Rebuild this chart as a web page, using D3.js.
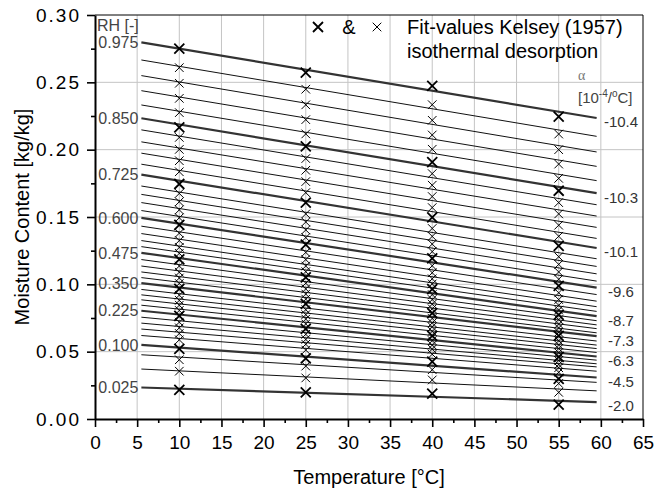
<!DOCTYPE html>
<html>
<head>
<meta charset="utf-8">
<script src="https://cdn.jsdelivr.net/npm/d3@7"></script>
<style>
  body { margin: 0; background: #fff; }
  text { font-family: "Liberation Sans", Arial, sans-serif; }
</style>
</head>
<body>
<svg id="chart" width="663" height="490"></svg>
<script>
// relative humidity of each fit line, top to bottom
const rhLevels = [0.975, 0.950, 0.925, 0.900, 0.875, 0.850, 0.825, 0.800, 0.775, 0.750,
  0.725, 0.700, 0.675, 0.650, 0.625, 0.600, 0.575, 0.550, 0.525, 0.500,
  0.475, 0.450, 0.425, 0.400, 0.375, 0.350, 0.325, 0.300, 0.275, 0.250,
  0.225, 0.200, 0.175, 0.150, 0.125, 0.100, 0.075, 0.050, 0.025];

// fit lines run from 5.5 to 59.5 degC
const fitRange = [5.5, 59.5];
const mcStart = [0.2797, 0.2666, 0.2550, 0.2438, 0.2332, 0.2233, 0.2147, 0.2058, 0.1974, 0.1892,
  0.1815, 0.1730, 0.1668, 0.1607, 0.1548, 0.1494, 0.1432, 0.1377, 0.1325, 0.1280,
  0.1234, 0.1184, 0.1136, 0.1092, 0.1050, 0.1009, 0.0962, 0.0922, 0.0885, 0.0845,
  0.0804, 0.0756, 0.0712, 0.0668, 0.0620, 0.0551, 0.0477, 0.0371, 0.0234];
const mcEnd = [0.2235, 0.2099, 0.1983, 0.1876, 0.1770, 0.1677, 0.1591, 0.1507, 0.1423, 0.1341,
  0.1270, 0.1190, 0.1133, 0.1078, 0.1024, 0.0976, 0.0924, 0.0875, 0.0834, 0.0799,
  0.0764, 0.0730, 0.0699, 0.0671, 0.0640, 0.0615, 0.0579, 0.0549, 0.0523, 0.0494,
  0.0464, 0.0437, 0.0410, 0.0387, 0.0355, 0.0308, 0.0272, 0.0209, 0.0126];

// Kelsey (1957) values at the four measuring temperatures
const sampleTemps = [10, 25, 40, 55];
const mc10 = [0.2750, 0.2609, 0.2493, 0.2381, 0.2275, 0.2165, 0.2091, 0.2002, 0.1918, 0.1836,
  0.1745, 0.1675, 0.1613, 0.1553, 0.1494, 0.1441, 0.1380, 0.1325, 0.1274, 0.1230,
  0.1185, 0.1136, 0.1090, 0.1047, 0.1006, 0.0966, 0.0920, 0.0881, 0.0845, 0.0806,
  0.0766, 0.0719, 0.0677, 0.0635, 0.0588, 0.0521, 0.0440, 0.0355, 0.0217];
const mc25 = [0.2572, 0.2449, 0.2333, 0.2223, 0.2117, 0.2025, 0.1934, 0.1847, 0.1763, 0.1681,
  0.1606, 0.1523, 0.1463, 0.1404, 0.1347, 0.1295, 0.1237, 0.1184, 0.1136, 0.1094,
  0.1052, 0.1008, 0.0966, 0.0928, 0.0890, 0.0855, 0.0812, 0.0775, 0.0742, 0.0706,
  0.0669, 0.0629, 0.0591, 0.0555, 0.0512, 0.0451, 0.0393, 0.0305, 0.0197];
const mc40 = [0.2473, 0.2334, 0.2218, 0.2109, 0.2003, 0.1908, 0.1822, 0.1736, 0.1652, 0.1570,
  0.1497, 0.1415, 0.1356, 0.1299, 0.1243, 0.1193, 0.1138, 0.1086, 0.1041, 0.1003,
  0.0964, 0.0924, 0.0887, 0.0853, 0.0818, 0.0787, 0.0747, 0.0714, 0.0684, 0.0651,
  0.0617, 0.0582, 0.0549, 0.0519, 0.0481, 0.0426, 0.0366, 0.0290, 0.0188];
const mc55 = [0.2245, 0.2116, 0.2000, 0.1893, 0.1787, 0.1695, 0.1607, 0.1523, 0.1439, 0.1357,
  0.1285, 0.1205, 0.1148, 0.1092, 0.1038, 0.0989, 0.0937, 0.0887, 0.0845, 0.0809,
  0.0773, 0.0738, 0.0705, 0.0676, 0.0644, 0.0618, 0.0581, 0.0550, 0.0523, 0.0493,
  0.0462, 0.0434, 0.0405, 0.0381, 0.0347, 0.0298, 0.0264, 0.0198, 0.0107];

// labelled (bold) lines and their temperature coefficient [1e-4 / degC]
const boldRH = [0.975, 0.850, 0.725, 0.600, 0.475, 0.350, 0.225, 0.100, 0.025];
const alphaLabels = ["-10.4", "-10.3", "-10.1", "-9.6", "-8.7", "-7.3", "-6.3", "-4.5", "-2.0"];

const xTickValues = [0, 5, 10, 15, 20, 25, 30, 35, 40, 45, 50, 55, 60, 65];
const yTickValues = [0, 0.05, 0.10, 0.15, 0.20, 0.25, 0.30];
const yTickLabels = ["0.00", "0.05", "0.10", "0.15", "0.20", "0.25", "0.30"];

const svg = d3.select("#chart");
const margin = {left: 95, right: 20, top: 15, bottom: 71};
const width = 663, height = 490;

const x = d3.scaleLinear().domain([0, 65]).range([margin.left, width - margin.right]);
const y = d3.scaleLinear().domain([0, 0.30]).range([height - margin.bottom, margin.top]);

const lines = rhLevels.map((rh, i) => ({
  rh: rh,
  bold: boldRH.some(b => Math.abs(b - rh) < 1e-6),
  start: mcStart[i],
  end: mcEnd[i],
  points: [mc10[i], mc25[i], mc40[i], mc55[i]]
}));

// grid
svg.append("g").selectAll("line")
  .data(xTickValues.slice(1, -1))
  .enter().append("line")
  .attr("x1", d => x(d)).attr("x2", d => x(d))
  .attr("y1", y(0)).attr("y2", y(0.30))
  .attr("stroke", "#c4c4c4").attr("stroke-width", 1);
svg.append("g").selectAll("line")
  .data(yTickValues.slice(1, -1))
  .enter().append("line")
  .attr("x1", x(0)).attr("x2", x(65))
  .attr("y1", d => y(d)).attr("y2", d => y(d))
  .attr("stroke", "#c4c4c4").attr("stroke-width", 1);

// frame top and right
svg.append("path")
  .attr("d", `M${x(0)},${y(0.30)}H${x(65)}V${y(0)}`)
  .attr("fill", "none").attr("stroke", "#000").attr("stroke-width", 1);

// fit lines
svg.append("g").selectAll("line")
  .data(lines)
  .enter().append("line")
  .attr("x1", x(fitRange[0])).attr("x2", x(fitRange[1]))
  .attr("y1", d => y(d.start)).attr("y2", d => y(d.end))
  .attr("stroke", d => d.bold ? "#333" : "#111")
  .attr("stroke-width", d => d.bold ? 2.2 : 1);

// markers
const crossBig = "M-5,-5L5,5M5,-5L-5,5";
const crossSmall = "M-4.3,-4.3L4.3,4.3M4.3,-4.3L-4.3,4.3";
const markers = [];
lines.forEach(l => l.points.forEach((v, j) => markers.push({t: sampleTemps[j], mc: v, bold: l.bold})));
svg.append("g").selectAll("path")
  .data(markers)
  .enter().append("path")
  .attr("transform", d => `translate(${x(d.t)},${y(d.mc)})`)
  .attr("d", d => d.bold ? crossBig : crossSmall)
  .attr("fill", "none")
  .attr("stroke", "#000")
  .attr("stroke-width", d => d.bold ? 1.8 : 1);

// RH labels
svg.append("text")
  .attr("x", 97).attr("y", 31)
  .attr("font-size", 16).attr("fill", "#444")
  .text("RH [-]");
svg.append("g").selectAll("text")
  .data(lines.filter(l => l.bold))
  .enter().append("text")
  .attr("x", x(fitRange[0]) - 3)
  .attr("y", d => y(d.start))
  .attr("dy", "0.36em")
  .attr("text-anchor", "end")
  .attr("font-size", 16).attr("fill", "#444")
  .text(d => d.rh.toFixed(3));

// alpha labels
svg.append("text")
  .attr("x", 578).attr("y", 80)
  .attr("font-size", 14).attr("fill", "#777")
  .style("font-family", "'Liberation Serif', serif")
  .text("α");
const unit = svg.append("text")
  .attr("x", 578).attr("y", 103)
  .attr("font-size", 15).attr("fill", "#444");
unit.append("tspan").text("[10");
unit.append("tspan").attr("dy", -6).attr("font-size", 10).text("-4");
unit.append("tspan").attr("dy", 6).text("/");
unit.append("tspan").attr("dy", -6).attr("font-size", 10).text("o");
unit.append("tspan").attr("dy", 6).text("C]");
svg.append("g").selectAll("text")
  .data(lines.filter(l => l.bold))
  .enter().append("text")
  .attr("x", 621)
  .attr("y", d => y(d.end) + 4)
  .attr("dy", "0.36em")
  .attr("text-anchor", "middle")
  .attr("font-size", 15).attr("fill", "#333")
  .text((d, i) => alphaLabels[i]);

// legend
svg.append("path")
  .attr("transform", "translate(318,27)")
  .attr("d", crossBig).attr("fill", "none").attr("stroke", "#000").attr("stroke-width", 1.8);
svg.append("text").attr("x", 349).attr("y", 34).attr("text-anchor", "middle")
  .attr("font-size", 20).text("&");
svg.append("path")
  .attr("transform", "translate(377,27)")
  .attr("d", crossSmall).attr("fill", "none").attr("stroke", "#000").attr("stroke-width", 1);
svg.append("text").attr("x", 407).attr("y", 34).attr("font-size", 20).text("Fit-values Kelsey (1957)");
svg.append("text").attr("x", 407).attr("y", 58).attr("font-size", 20).text("isothermal desorption");

// axes
svg.append("g")
  .attr("transform", `translate(0,${y(0)})`)
  .call(d3.axisBottom(x).tickValues(xTickValues).tickSize(8).tickPadding(9).tickSizeOuter(0))
  .call(g => g.selectAll(".tick text").attr("font-size", 19));
svg.append("g")
  .attr("transform", `translate(0,${y(0)})`)
  .call(d3.axisBottom(x).tickValues(xTickValues.slice(0, -1).map(v => v + 2.5)).tickSize(4).tickFormat("").tickSizeOuter(0))
  .call(g => g.select(".domain").remove());
svg.append("g")
  .attr("transform", `translate(${x(0)},0)`)
  .call(d3.axisLeft(y).tickValues(yTickValues).tickSize(8).tickPadding(6).tickSizeOuter(0)
    .tickFormat((d, i) => yTickLabels[i]))
  .call(g => g.selectAll(".tick text").attr("font-size", 19).style("letter-spacing", "2px"));
svg.append("g")
  .attr("transform", `translate(${x(0)},0)`)
  .call(d3.axisLeft(y).tickValues(yTickValues.slice(0, -1).map(v => v + 0.025)).tickSize(4).tickFormat("").tickSizeOuter(0))
  .call(g => g.select(".domain").remove());

svg.selectAll(".tick text").attr("fill", "#000")
  .style("font-family", "'Liberation Sans', Arial, sans-serif");
svg.selectAll(".tick line").attr("stroke", "#000").attr("stroke-width", 1.6);
svg.selectAll(".domain").attr("stroke", "#000").attr("stroke-width", 2);

// axis titles
svg.append("text")
  .attr("x", (x(0) + x(65)) / 2).attr("y", 484)
  .attr("text-anchor", "middle").attr("font-size", 20)
  .text("Temperature [°C]");
svg.append("text")
  .attr("transform", `translate(29,${(y(0) + y(0.30)) / 2}) rotate(-90)`)
  .attr("text-anchor", "middle").attr("font-size", 20)
  .text("Moisture Content [kg/kg]");
</script>
</body>
</html>
